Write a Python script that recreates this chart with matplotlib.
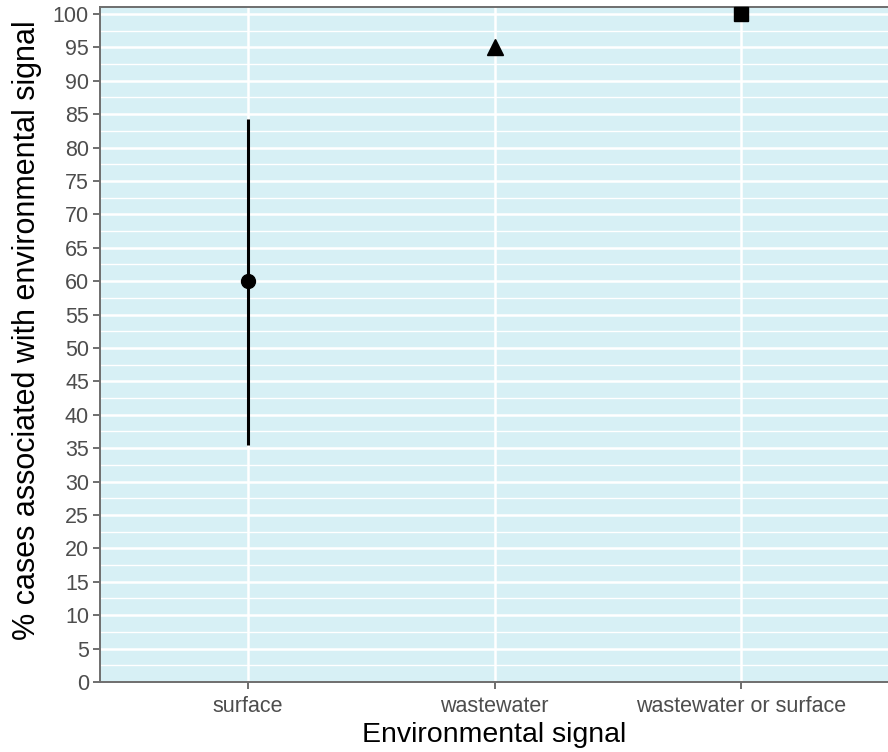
import matplotlib
matplotlib.use('Agg')
import matplotlib.pyplot as plt
import numpy as np

# data
categories = ['surface', 'wastewater', 'wastewater or surface']
percent = [60, 95, 100]
ci_low = [35.5, None, None]
ci_high = [84.3, None, None]
markers = ['o', '^', 's']
y_ticks = list(range(0, 101, 5))

panel_bg = '#d7f0f5'
axis_grey = '#6e6e6e'
label_grey = '#4d4d4d'

plt.rcParams['font.family'] = ['Liberation Sans', 'DejaVu Sans']

fig = plt.figure(figsize=(8.88, 7.52), dpi=100)
ax = fig.add_axes([100/888, 70/752, 789/888, 674.7/752])
ax.set_facecolor(panel_bg)

x = np.arange(1, len(categories) + 1)

# error bar for the surface estimate
for i in range(len(categories)):
    if ci_low[i] is not None:
        ax.plot([x[i], x[i]], [ci_low[i], ci_high[i]], color='black',
                lw=2.2, solid_capstyle='butt', zorder=3)

sizes = {'o': 10, '^': 11, 's': 9.5}
for i in range(len(categories)):
    ax.plot(x[i], percent[i], marker=markers[i], color='black',
            markersize=sizes[markers[i]], linestyle='none', zorder=4,
            clip_on=False)

ax.set_xlim(0.4, 3.6)
ax.set_ylim(0, 101)
ax.set_xticks(x)
ax.set_xticklabels(categories)
ax.set_yticks(y_ticks)
ax.set_yticks(np.arange(2.5, 101, 5), minor=True)

# ggplot-ish white grid
ax.grid(which='major', color='white', lw=1.8)
ax.grid(which='minor', axis='y', color='white', lw=1.0)
ax.set_axisbelow(True)

for side in ['left', 'bottom', 'top', 'right']:
    ax.spines[side].set_color(axis_grey)
    ax.spines[side].set_linewidth(1.4)

ax.tick_params(axis='both', which='major', length=5, width=1.4,
               color=axis_grey, labelcolor=label_grey, labelsize=15.5)
ax.tick_params(axis='y', which='major', pad=3)
ax.tick_params(axis='x', which='major', pad=5)
ax.tick_params(axis='both', which='minor', length=0)

ax.set_xlabel('Environmental signal', fontsize=20.5, labelpad=4)
ax.set_ylabel('% cases associated with environmental signal',
              fontsize=22, labelpad=4)
# the reference's y title sits a little above the panel centre
ax.yaxis.set_label_coords(-0.073, 0.522)

fig.savefig('out.png', dpi=100)
